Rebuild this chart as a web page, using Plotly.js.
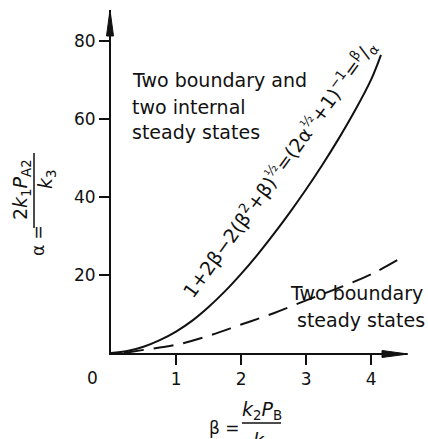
<!DOCTYPE html>
<html>
<head>
<meta charset="utf-8">
<script src="https://cdn.plot.ly/plotly-3.0.1.min.js"></script>
<style>
  body { margin: 0; background: #fff; }
  #chart { width: 428px; height: 439px; }
</style>
</head>
<body>
<div id="chart"></div>
<script>
// boundary between the two regimes (solid)
const beta = [0, 0.25, 0.5, 0.75, 1.0, 1.25, 1.5, 1.75, 2.0, 2.25, 2.5, 2.75, 3.0, 3.25, 3.5, 3.75, 4.0, 4.15];
const alpha = [0, 0.5, 1.6, 3.3, 5.5, 8.3, 11.8, 15.8, 20.3, 25.2, 30.5, 36.1, 42.0, 48.3, 55.0, 62.2, 70.2, 76.5];

// dashed curve
const dashBeta = [0.2, 0.5, 1.0, 1.5, 2.0, 2.5, 3.0, 3.5, 4.0, 4.4];
const dashAlpha = [0, 0.8, 2.1, 4.4, 7.3, 10.2, 13.5, 16.7, 20.2, 23.8];

const xTicks = [1, 2, 3, 4];
const yTicks = [20, 40, 60, 80];

const INK = "#111";
const FONT = "DejaVu Sans, sans-serif";

// plot box in pixels (used only to place text and decorations)
const L = 111, T = 10, W = 296, H = 343;
const px = (x) => (x - L) / W;
const py = (y) => (T + H - y) / H;

function note(x, y, text, opts = {}) {
  return {
    xref: "paper", yref: "paper",
    x: px(x), y: py(y),
    text,
    showarrow: false,
    font: { family: FONT, size: opts.size || 19, color: INK },
    xanchor: opts.xanchor || "center",
    yanchor: opts.yanchor || "middle",
    textangle: opts.angle || 0,
    align: opts.align || "center",
  };
}

function seg(x0, y0, x1, y1, w) {
  return {
    type: "line", xref: "paper", yref: "paper",
    x0: px(x0), y0: py(y0), x1: px(x1), y1: py(y1),
    line: { color: INK, width: w || 1.5 },
  };
}

function tri(points) {
  const d = points.map((p, i) => (i ? "L" : "M") + px(p[0]) + "," + py(p[1])).join(" ") + " Z";
  return { type: "path", xref: "paper", yref: "paper", path: d, fillcolor: INK, line: { color: INK, width: 1 } };
}

const traces = [
  {
    x: beta, y: alpha, type: "scatter", mode: "lines",
    line: { color: INK, width: 2, shape: "spline", smoothing: 1 },
    hoverinfo: "skip",
  },
  {
    x: dashBeta, y: dashAlpha, type: "scatter", mode: "lines",
    line: { color: INK, width: 2, dash: "20px,10px", shape: "spline", smoothing: 1 },
    hoverinfo: "skip",
  },
];

const axisBase = {
  showline: true, linecolor: INK, linewidth: 2,
  ticks: "outside", ticklen: 10, tickwidth: 1.5, tickcolor: INK,
  showgrid: false, zeroline: false, fixedrange: true,
  tickfont: { family: FONT, size: 17, color: INK },
};

const annotations = [
  note(130, 80, "Two boundary and", { xanchor: "left" }),
  note(130, 107, "two internal", { xanchor: "left" }),
  note(130, 132, "steady states", { xanchor: "left" }),
  note(425, 293, "Two boundary", { xanchor: "right" }),
  note(427, 320, "steady states", { xanchor: "right" }),
  note(279, 169, "1+2β−2(β<sup>2</sup>+β)<sup>½</sup>=(2α<sup>½</sup>+1)<sup>−1</sup>=<sup>β</sup>/<sub>α</sub>", { size: 19, angle: -54 }),
  note(92, 378, "0", { size: 17 }),
  // y-axis label: α = 2k1PA2 / k3
  note(38, 241, "α =", { size: 17, angle: -90 }),
  note(22, 190, "2<i>k</i><sub>1</sub><i>P</i><sub>A2</sub>", { size: 19, angle: -90 }),
  note(46, 180, "<i>k</i><sub>3</sub>", { size: 19, angle: -90 }),
  // x-axis label: β = k2PB / k3
  note(224, 428, "β =", { size: 17 }),
  note(262, 410, "<i>k</i><sub>2</sub><i>P</i><sub>B</sub>", { size: 19 }),
  note(262, 442, "<i>k</i><sub>3</sub>", { size: 19 }),
];

const shapes = [
  seg(34, 153, 34, 228),
  seg(242, 423, 281, 423),
  tri([[110, 10], [106.5, 36], [113.5, 36]]),
  tri([[408, 354], [382, 350.5], [382, 357.5]]),
];

const layout = {
  width: 428, height: 439,
  margin: { l: L, r: 428 - L - W, t: T, b: 439 - T - H, pad: 0 },
  paper_bgcolor: "#fff", plot_bgcolor: "#fff",
  showlegend: false,
  font: { family: FONT, color: INK },
  xaxis: { ...axisBase, range: [0, 4.55], tickvals: xTicks },
  yaxis: { ...axisBase, range: [0, 88], tickvals: yTicks },
  annotations,
  shapes,
};

Plotly.newPlot("chart", traces, layout, { displayModeBar: false, staticPlot: true });
</script>
</body>
</html>
